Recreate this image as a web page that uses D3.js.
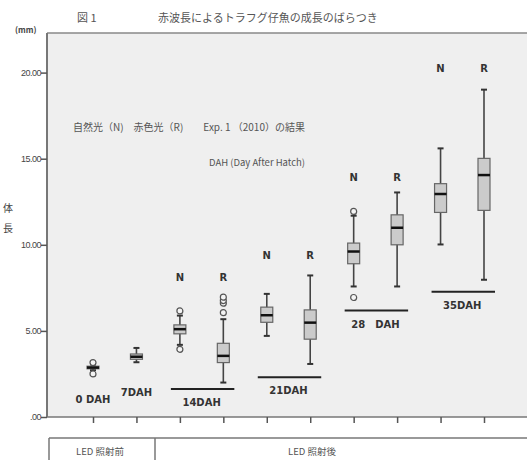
<!DOCTYPE html>
<html>
<head>
<meta charset="utf-8">
<script src="https://cdn.jsdelivr.net/npm/d3@7"></script>
<style>
  body { margin: 0; background: #fff; }
  svg { display: block; font-family: "Noto Sans CJK JP", "DejaVu Sans", sans-serif; }
</style>
</head>
<body>
<div id="chart"></div>
<script>
// 10 boxes: 0DAH, 7DAH, then N/R pairs for 14, 21, 28, 35 DAH
const categories = ["0DAH", "7DAH", "14N", "14R", "21N", "21R", "28N", "28R", "35N", "35R"];
const whiskerLow  = [2.72, 3.18, 4.19, 2.00, 4.71, 3.08, 7.58, 7.58, 10.02, 7.97];
const q1          = [2.80, 3.35, 4.83, 3.16, 5.50, 4.52, 8.90, 10.00, 11.88, 12.00];
const medians     = [2.87, 3.50, 5.10, 3.55, 5.91, 5.48, 9.61, 10.99, 12.95, 14.05];
const q3          = [2.95, 3.66, 5.35, 4.28, 6.38, 6.22, 10.10, 11.74, 13.55, 15.02];
const whiskerHigh = [3.05, 4.01, 5.89, 5.68, 7.15, 8.22, 11.69, 13.04, 15.60, 19.01];
const outliers    = [[3.16, 2.50], [], [6.16, 3.93], [6.06, 6.61, 6.76, 6.96], [], [], [11.94, 6.94], [], [], []];
const yTicks = [0, 5, 10, 15, 20];
const yTickLabels = [".00", "5.00", "10.00", "15.00", "20.00"];
const groups = [
  {label: "14DAH", cats: ["14N", "14R"], line: 1.63, text: 0.81, nr: 8.08},
  {label: "21DAH", cats: ["21N", "21R"], line: 2.31, text: 1.51, nr: 9.35},
  {label: "28　DAH", cats: ["28N", "28R"], line: 6.18, text: 5.35, nr: 13.9},
  {label: "35DAH", cats: ["35N", "35R"], line: 7.28, text: 6.45, nr: 20.2}
];
const singles = [{label: "0 DAH", cat: "0DAH", text: 0.99}, {label: "7DAH", cat: "7DAH", text: 1.41}];

const W = 527, H = 460;
const pLeft = 47, pTop = 33, pBottom = 417;

const svg = d3.select("#chart").append("svg").attr("width", W).attr("height", H);

const y = d3.scaleLinear().domain([0, 22.3]).range([pBottom, pTop]);
const x = d3.scalePoint().domain(categories).range([93, 484]);

// plot background
svg.append("rect").attr("x", pLeft).attr("y", pTop).attr("width", W - pLeft).attr("height", pBottom - pTop)
  .attr("fill", "#efefef");
svg.append("line").attr("x1", pLeft).attr("x2", W).attr("y1", pTop).attr("y2", pTop)
  .attr("stroke", "#888").attr("stroke-width", 1.5);

// y axis
const yAxis = svg.append("g").attr("transform", `translate(${pLeft},0)`)
  .call(d3.axisLeft(y).tickValues(yTicks).tickSize(6).tickFormat((d, i) => yTickLabels[i]));
yAxis.select(".domain").attr("stroke", "#777").attr("stroke-width", 2).attr("d", `M0,${pTop}V${pBottom}`);
yAxis.selectAll(".tick line").attr("stroke", "#555").attr("stroke-width", 1.5);
yAxis.selectAll(".tick text").attr("fill", "#444").attr("font-size", 9).attr("x", -6)
  .attr("letter-spacing", -0.5).attr("font-family", "Liberation Sans, sans-serif");

// x axis (labels hidden)
const xAxis = svg.append("g").attr("transform", `translate(0,${pBottom})`)
  .call(d3.axisBottom(x).tickSize(6).tickFormat(""));
xAxis.select(".domain").attr("stroke", "#777").attr("stroke-width", 1.5).attr("d", `M${pLeft},0H${W}`);
xAxis.selectAll(".tick line").attr("stroke", "#555").attr("stroke-width", 1.5);

// boxes
const bw = 12;
const box = svg.append("g").selectAll("g").data(categories).join("g")
  .attr("transform", d => `translate(${x(d)},0)`);
box.append("line").attr("x1", 0).attr("x2", 0)
  .attr("y1", (d, i) => y(whiskerLow[i])).attr("y2", (d, i) => y(whiskerHigh[i]))
  .attr("stroke", "#444").attr("stroke-width", 1.6);
box.append("line").attr("x1", -3).attr("x2", 3)
  .attr("y1", (d, i) => y(whiskerLow[i])).attr("y2", (d, i) => y(whiskerLow[i]))
  .attr("stroke", "#333").attr("stroke-width", 2);
box.append("line").attr("x1", -3).attr("x2", 3)
  .attr("y1", (d, i) => y(whiskerHigh[i])).attr("y2", (d, i) => y(whiskerHigh[i]))
  .attr("stroke", "#333").attr("stroke-width", 2);
box.append("rect").attr("x", -bw / 2).attr("width", bw)
  .attr("y", (d, i) => y(q3[i])).attr("height", (d, i) => y(q1[i]) - y(q3[i]))
  .attr("fill", "#cbcbcb").attr("stroke", "#666").attr("stroke-width", 1.2);
box.append("line").attr("x1", -bw / 2).attr("x2", bw / 2)
  .attr("y1", (d, i) => y(medians[i])).attr("y2", (d, i) => y(medians[i]))
  .attr("stroke", "#111").attr("stroke-width", 2.5);
box.selectAll("circle").data((d, i) => outliers[i]).join("circle")
  .attr("cx", 0).attr("cy", v => y(v)).attr("r", 3)
  .attr("fill", "#f4f4f4").attr("stroke", "#555").attr("stroke-width", 1.2);

// group labels
const bold = {"font-size": 10, "font-weight": "bold", "fill": "#333", "font-family": "DejaVu Sans, sans-serif"};
function styled(sel, st) { Object.entries(st).forEach(([k, v]) => sel.attr(k, v)); return sel; }

groups.forEach(g => {
  const x0 = x(g.cats[0]), x1 = x(g.cats[1]);
  svg.append("line").attr("x1", x0 - 9).attr("x2", x1 + 11).attr("y1", y(g.line)).attr("y2", y(g.line))
    .attr("stroke", "#222").attr("stroke-width", 2);
  styled(svg.append("text"), bold).attr("x", (x0 + x1) / 2).attr("y", y(g.text))
    .attr("text-anchor", "middle").attr("dominant-baseline", "middle").text(g.label);
  ["N", "R"].forEach((t, k) => {
    styled(svg.append("text"), bold).attr("x", x(g.cats[k])).attr("y", y(g.nr))
      .attr("text-anchor", "middle").attr("dominant-baseline", "middle").text(t);
  });
});
singles.forEach(s => {
  styled(svg.append("text"), bold).attr("x", x(s.cat)).attr("y", y(s.text))
    .attr("text-anchor", "middle").attr("dominant-baseline", "middle").text(s.label);
});

// notes inside plot
svg.append("text").attr("x", 73).attr("y", 131).attr("font-size", 10).attr("fill", "#555")
  .text("自然光（N)　赤色光（R)　　Exp. 1 （2010）の結果");
svg.append("text").attr("x", 209).attr("y", 166).attr("font-size", 9.5).attr("fill", "#555")
  .text("DAH (Day After Hatch)");

// titles
svg.append("text").attr("x", 77).attr("y", 22).attr("font-size", 11).attr("fill", "#555").text("図 1");
svg.append("text").attr("x", 158).attr("y", 22).attr("font-size", 11).attr("fill", "#555")
  .text("赤波長によるトラフグ仔魚の成長のばらつき");
svg.append("text").attr("x", 15).attr("y", 33).attr("font-size", 8).attr("font-weight", "bold")
  .attr("fill", "#444").text("(mm)");
svg.append("text").attr("x", 3).attr("y", 212).attr("font-size", 10).attr("fill", "#444").text("体");
svg.append("text").attr("x", 3).attr("y", 232).attr("font-size", 10).attr("fill", "#444").text("長");

// bottom table
const tb = svg.append("g").attr("stroke", "#777").attr("stroke-width", 1.5);
tb.append("line").attr("x1", 49).attr("x2", W).attr("y1", 438).attr("y2", 438);
tb.append("line").attr("x1", 49).attr("x2", 49).attr("y1", 438).attr("y2", H);
tb.append("line").attr("x1", 155).attr("x2", 155).attr("y1", 438).attr("y2", H);
svg.append("text").attr("x", 100).attr("y", 455).attr("text-anchor", "middle").attr("font-size", 9.5)
  .attr("fill", "#555").text("LED 照射前");
svg.append("text").attr("x", 312).attr("y", 455).attr("text-anchor", "middle").attr("font-size", 9.5)
  .attr("fill", "#555").text("LED 照射後");
</script>
</body>
</html>
